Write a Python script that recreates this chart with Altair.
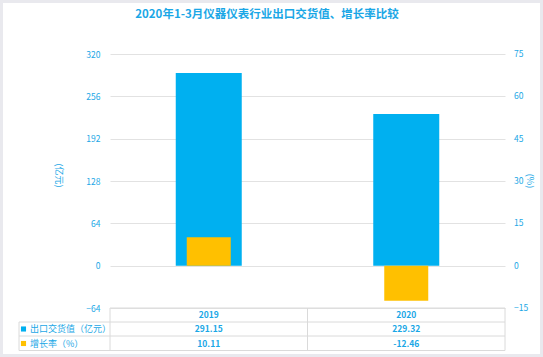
import altair as alt
import pandas as pd

# ---- data ----
years = ["2019", "2020"]
export_value = [291.15, 229.32]   # 出口交货值（亿元）
growth_rate = [10.11, -12.46]     # 增长率（%）
left_ticks = [-64, 0, 64, 128, 192, 256, 320]
right_ticks = [-15, 0, 15, 30, 45, 60, 75]
row_labels = ["出口交货值（亿元）", "增长率（%）"]
title_text = "2020年1-3月仪器仪表行业出口交货值、增长率比较"

BLUE = "#00B0F0"
ORANGE = "#FFC000"
TXT = "#1AA7E6"
GRID = "#E2E2E2"
TBL = "#DADADA"
FRAME = "#E9E9EE"
FONT = "Noto Sans CJK SC"

W, H = 395, 254
L, T = 110, 54

df = pd.DataFrame({"year": years, "export": export_value, "growth": growth_rate})
df["export_txt"] = [f"{v:.2f}" for v in export_value]
df["growth_txt"] = [f"{v:.2f}" for v in growth_rate]
one = pd.DataFrame({"k": [0]})
rt = pd.DataFrame({"v": right_ticks})

xenc = alt.X("year:N", scale=alt.Scale(domain=years, paddingInner=0, paddingOuter=0), axis=None)
right_scale = alt.Scale(domain=[-15, 75], nice=False, zero=False)

base = alt.Chart(df)

# outer gray frame (drawn as strips outside the plot so axes stay visible)
def strip(x, x2, y, y2, color=FRAME):
    return alt.Chart(one).mark_rect(color=color).encode(
        x=alt.value(x), x2=alt.value(x2), y=alt.value(y), y2=alt.value(y2))

frame = [
    strip(-L, 543 - L, -T, -T + 3),
    strip(-L, 543 - L, 354 - T, 357 - T),
    strip(-L, -L + 3, -T, 357 - T),
    strip(540 - L, 543 - L, -T, 357 - T),
]

title = alt.Chart(pd.DataFrame({"t": [title_text]})).mark_text(
    font=FONT, fontSize=11.5, fontWeight="bold", color=TXT, align="center", baseline="middle"
).encode(x=alt.value(157), y=alt.value(-39), text="t:N")

bars_blue = base.mark_bar(color=BLUE, size=66).encode(
    x=xenc,
    y=alt.Y("export:Q", scale=alt.Scale(domain=[-64, 320], nice=False, zero=False),
            axis=alt.Axis(values=left_ticks, grid=True, gridColor=GRID, gridWidth=1,
                          domain=False, ticks=False, labelColor=TXT, labelFont=FONT,
                          labelFontSize=8.5, labelPadding=10,
                          title="(亿元)", titleAngle=90, titleX=-52, titleY=121,
                          titleAlign="center", titleBaseline="middle",
                          titleColor=TXT, titleFont=FONT, titleFontSize=9,
                          titleFontWeight="normal")),
)

bars_orange = base.mark_bar(color=ORANGE, size=44).encode(
    x=xenc,
    y=alt.Y("growth:Q", scale=right_scale, axis=None),
)

# right-hand axis (%) : labels placed through the same growth scale
right_labels = alt.Chart(rt).mark_text(
    font=FONT, fontSize=8.5, color=TXT, align="left", baseline="middle"
).encode(x=alt.value(W + 9), y=alt.Y("v:Q", scale=right_scale, axis=None), text="v:Q")

right_title = alt.Chart(pd.DataFrame({"t": ["(%)"]})).mark_text(
    font=FONT, fontSize=9, color=TXT, align="center", baseline="middle", angle=90
).encode(x=alt.value(W + 25), y=alt.value(127), text="t:N")

# ---- data table below the plot ----
def rule(x, x2, y, y2):
    return alt.Chart(one).mark_rule(color=TBL, strokeWidth=1).encode(
        x=alt.value(x), x2=alt.value(x2), y=alt.value(y), y2=alt.value(y2))

rules = [
    rule(0, W, 254, 254),
    rule(-91, W, 268, 268),
    rule(-91, W, 282, 282),
    rule(-91, W, 296.5, 296.5),
    rule(-91, -91, 268, 296.5),
    rule(0, 0, 254, 296.5),
    rule(W / 2, W / 2, 254, 296.5),
    rule(W, W, 254, 296.5),
]

txt_kw = dict(font=FONT, fontSize=8.5, fontWeight="bold", color=TXT, align="center", baseline="middle")
year_txt = base.mark_text(**txt_kw).encode(x=xenc, y=alt.value(261), text="year:N")
exp_txt = base.mark_text(**txt_kw).encode(x=xenc, y=alt.value(275), text="export_txt:N")
gro_txt = base.mark_text(**txt_kw).encode(x=xenc, y=alt.value(289.5), text="growth_txt:N")

def row_label(label, color, y):
    d = pd.DataFrame({"label": [label]})
    sq = alt.Chart(d).mark_square(color=color, size=26, opacity=1).encode(
        x=alt.value(-86.5), y=alt.value(y))
    tx = alt.Chart(d).mark_text(font=FONT, fontSize=9, color=TXT, align="left",
                                baseline="middle").encode(
        x=alt.value(-80), y=alt.value(y), text="label:N")
    return [sq, tx]

labels = row_label(row_labels[0], BLUE, 275) + row_label(row_labels[1], ORANGE, 289.5)

chart = alt.layer(
    *frame, title, bars_blue, bars_orange, right_labels, right_title,
    *rules, year_txt, exp_txt, gro_txt, *labels
).resolve_scale(y="independent").properties(
    width=W, height=H,
    autosize=alt.AutoSizeParams(type="none"),
    padding={"left": L, "top": T, "right": 543 - L - W, "bottom": 357 - T - H},
    background="white",
).configure_view(stroke=None)

chart.save("out.html", embed_options={"renderer": "svg", "actions": False})
